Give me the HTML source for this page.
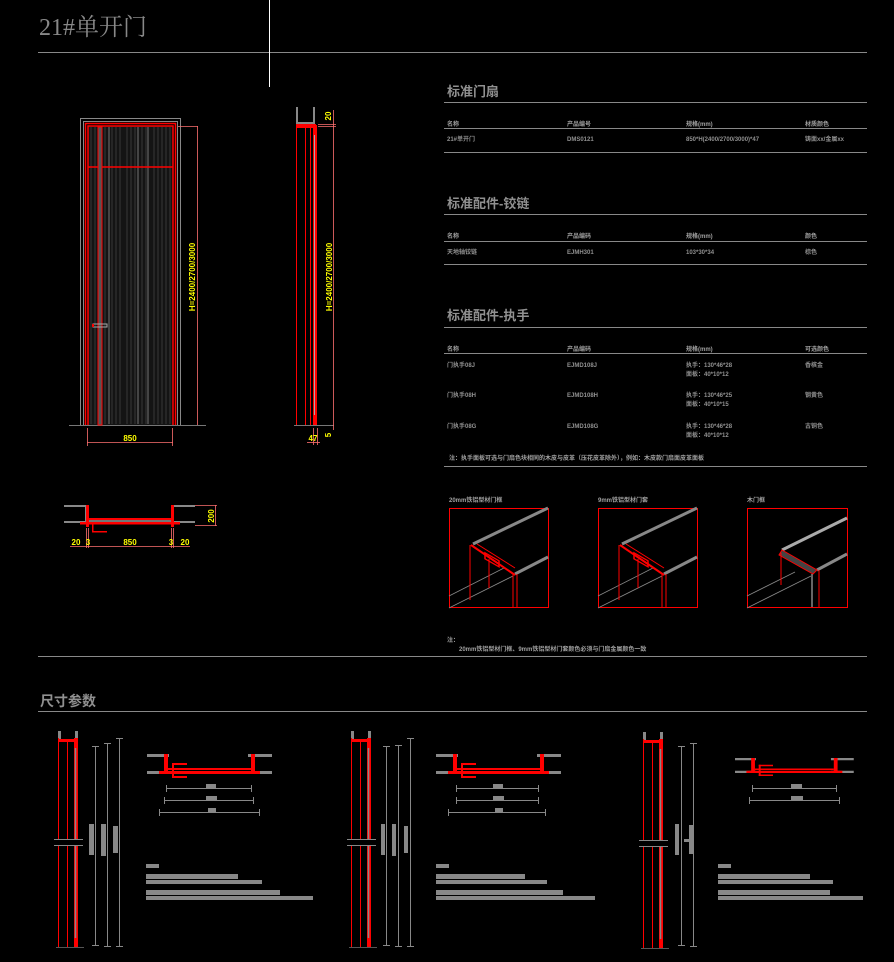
<!DOCTYPE html>
<html><head><meta charset="utf-8">
<style>
html,body{margin:0;padding:0;background:#000;}
svg{display:block;}
text{font-family:"Liberation Sans","Noto Sans CJK SC",sans-serif;}
.t{fill:#909090;font-size:6px;font-weight:bold;}
.th{fill:#a0a0a0;font-size:6px;font-weight:bold;}
.h2{fill:#909090;font-size:13px;font-weight:bold;}
.y{fill:#ffff00;font-size:8px;font-weight:bold;}
</style></head><body>
<svg width="894" height="962" viewBox="0 0 894 962" xmlns="http://www.w3.org/2000/svg">
<rect width="894" height="962" fill="#000"/>
<text x="39" y="35" style="font-family:'Liberation Serif','Noto Serif CJK SC',serif;font-size:24px;fill:#888">21#单开门</text>
<line x1="38" y1="52.5" x2="867" y2="52.5" stroke="#888" stroke-width="1"/>
<line x1="269.5" y1="0" x2="269.5" y2="87" stroke="#fff" stroke-width="1"/>

<g stroke="#888" stroke-width="1">
<line x1="444" y1="102.5" x2="867" y2="102.5"/>
<line x1="444" y1="128.5" x2="867" y2="128.5"/>
<line x1="444" y1="152.5" x2="867" y2="152.5"/>
<line x1="444" y1="214.5" x2="867" y2="214.5"/>
<line x1="444" y1="241.5" x2="867" y2="241.5"/>
<line x1="444" y1="264.5" x2="867" y2="264.5"/>
<line x1="444" y1="327.5" x2="867" y2="327.5"/>
<line x1="444" y1="353.5" x2="867" y2="353.5"/>
<line x1="444" y1="466.5" x2="867" y2="466.5"/>
<line x1="38" y1="656.5" x2="867" y2="656.5"/>
<line x1="38" y1="711.5" x2="867" y2="711.5"/>
</g>
<text class="h2" x="447" y="96">标准门扇</text>
<text class="th" x="447" y="126">名称</text><text class="th" x="567" y="126">产品编号</text><text class="th" x="686" y="126">规格(mm)</text><text class="th" x="805" y="126">材质颜色</text>
<text class="t" x="447" y="141">21#单开门</text><text class="t" x="567" y="141">DMS0121</text><text class="t" x="686" y="141">850*H(2400/2700/3000)*47</text><text class="t" x="805" y="141">铸面xx/金属xx</text>

<text class="h2" x="447" y="208">标准配件-铰链</text>
<text class="th" x="447" y="238">名称</text><text class="th" x="567" y="238">产品编码</text><text class="th" x="686" y="238">规格(mm)</text><text class="th" x="805" y="238">颜色</text>
<text class="t" x="447" y="254">天地轴铰链</text><text class="t" x="567" y="254">EJMH301</text><text class="t" x="686" y="254">103*30*34</text><text class="t" x="805" y="254">棕色</text>

<text class="h2" x="447" y="320">标准配件-执手</text>
<text class="th" x="447" y="351">名称</text><text class="th" x="567" y="351">产品编码</text><text class="th" x="686" y="351">规格(mm)</text><text class="th" x="805" y="351">可选颜色</text>
<text class="t" x="447" y="367">门执手08J</text><text class="t" x="567" y="367">EJMD108J</text><text class="t" x="686" y="367">执手：130*46*28</text><text class="t" x="686" y="376">面板：40*10*12</text><text class="t" x="805" y="367">香槟金</text>
<text class="t" x="447" y="397">门执手08H</text><text class="t" x="567" y="397">EJMD108H</text><text class="t" x="686" y="397">执手：130*46*25</text><text class="t" x="686" y="406">面板：40*10*15</text><text class="t" x="805" y="397">钢黄色</text>
<text class="t" x="447" y="428">门执手08G</text><text class="t" x="567" y="428">EJMD108G</text><text class="t" x="686" y="428">执手：130*46*28</text><text class="t" x="686" y="437">面板：40*10*12</text><text class="t" x="805" y="428">古铜色</text>
<text class="th" x="449" y="460">注：执手面板可选与门扇色块相同的木皮与皮革（压花皮革除外），例如：木皮款门扇面皮革面板</text>

<text class="th" x="449" y="502">20mm铁铝型材门框</text>
<text class="th" x="598" y="502">9mm铁铝型材门套</text>
<text class="th" x="747" y="502">木门框</text>
<defs>
<g id="iso">
 <line x1="0" y1="100" x2="64" y2="68" stroke="#888" stroke-width="0.8"/>
 <line x1="0" y1="88" x2="55" y2="60" stroke="#888" stroke-width="0.8"/>
 <line x1="24" y1="36" x2="99" y2="0" stroke="#888" stroke-width="3"/>
 <line x1="66" y1="66" x2="99" y2="49" stroke="#888" stroke-width="3"/>
 <line x1="22" y1="37" x2="66" y2="67" stroke="#ff0000" stroke-width="2"/>
 <line x1="28" y1="36" x2="66" y2="60" stroke="#ff0000" stroke-width="1"/>
 <rect x="36" y="48" width="14" height="6" fill="none" stroke="#ff0000" stroke-width="1.5" transform="skewY(30) translate(0,-24)"/>
 <line x1="21" y1="37" x2="21" y2="92" stroke="#ff0000" stroke-width="1"/>
 <line x1="40" y1="51" x2="40" y2="80" stroke="#ff0000" stroke-width="1"/>
 <line x1="64" y1="66" x2="64" y2="99" stroke="#ff0000" stroke-width="1"/>
 <line x1="68" y1="66" x2="68" y2="99" stroke="#ff0000" stroke-width="1"/>
</g>
</defs>
<rect x="449.5" y="508.5" width="99" height="99" fill="none" stroke="#ff0000" stroke-width="1"/>
<g transform="translate(449,508)"><use href="#iso"/></g>
<rect x="598.5" y="508.5" width="99" height="99" fill="none" stroke="#ff0000" stroke-width="1"/>
<g transform="translate(598,508)"><use href="#iso"/></g>
<rect x="747.5" y="508.5" width="100" height="99" fill="none" stroke="#ff0000" stroke-width="1"/>
<g transform="translate(747,508)">
 <line x1="0" y1="100" x2="64" y2="68" stroke="#888" stroke-width="0.8"/>
 <line x1="0" y1="88" x2="48" y2="64" stroke="#888" stroke-width="0.8"/>
 <line x1="35" y1="42" x2="100" y2="10" stroke="#aaa" stroke-width="3"/>
 <line x1="70" y1="62" x2="100" y2="46" stroke="#888" stroke-width="3"/>
 <path d="M35,42 L70,62 L66,66 L32,47 Z" fill="#444" stroke="#ff0000" stroke-width="1"/>
 <line x1="34" y1="45" x2="34" y2="77" stroke="#ff0000" stroke-width="1"/>
 <line x1="65" y1="66" x2="65" y2="99" stroke="#888" stroke-width="1.5"/>
 <line x1="72" y1="62" x2="72" y2="99" stroke="#ff0000" stroke-width="1"/>
</g>
<text class="th" x="447" y="642">注：</text>
<text class="th" x="459" y="651">20mm铁铝型材门框、9mm铁铝型材门套颜色必须与门扇金属颜色一致</text>

<line x1="69" y1="425.5" x2="206" y2="425.5" stroke="#777" stroke-width="1"/>
<path d="M80.5,425 V118.5 H180.5 V425" fill="none" stroke="#888" stroke-width="1"/>
<path d="M83.5,425 V121.5 H177.5 V425" fill="none" stroke="#888" stroke-width="1"/>
<rect x="88" y="126" width="85" height="299" fill="#141414"/>
<g stroke="#333" stroke-width="1.2">
<line x1="91" y1="127" x2="91" y2="424"/><line x1="95" y1="127" x2="95" y2="424"/>
<line x1="105" y1="127" x2="105" y2="424"/><line x1="112" y1="127" x2="112" y2="424"/>
<line x1="116" y1="127" x2="116" y2="424"/><line x1="120" y1="127" x2="120" y2="424"/>
<line x1="127" y1="127" x2="127" y2="424"/><line x1="131" y1="127" x2="131" y2="424"/>
<line x1="135" y1="127" x2="135" y2="424"/><line x1="142" y1="127" x2="142" y2="424"/>
<line x1="146" y1="127" x2="146" y2="424"/><line x1="154" y1="127" x2="154" y2="424"/>
<line x1="158" y1="127" x2="158" y2="424"/><line x1="162" y1="127" x2="162" y2="424"/>
<line x1="166" y1="127" x2="166" y2="424"/><line x1="170" y1="127" x2="170" y2="424"/>
</g>
<g stroke="#444" stroke-width="2"><line x1="109" y1="127" x2="109" y2="424"/><line x1="138" y1="127" x2="138" y2="424"/><line x1="148" y1="127" x2="148" y2="424"/></g>
<g fill="none" stroke="#ff0000" stroke-width="1.5">
<path d="M85.5,425 V123.5 H175.5 V425"/>
<path d="M88,425 V126 H173 V425"/>
</g>
<line x1="88" y1="167" x2="173" y2="167" stroke="#ff0000" stroke-width="1.5"/>
<rect x="98" y="127" width="4" height="298" fill="#555" stroke="#ff0000" stroke-width="1"/>
<rect x="93" y="324" width="14" height="3" fill="none" stroke="#aaa" stroke-width="1"/>
<rect x="92" y="324" width="2" height="3" fill="#ff0000"/>
<g stroke="#ff7070" stroke-width="0.8">
<line x1="178" y1="126.5" x2="198" y2="126.5"/><line x1="197.5" y1="126" x2="197.5" y2="425"/>
<line x1="87.5" y1="428" x2="87.5" y2="446"/><line x1="172.5" y1="428" x2="172.5" y2="446"/><line x1="87" y1="442.5" x2="173" y2="442.5"/>
</g>
<text class="y" transform="translate(195,277) rotate(-90)" text-anchor="middle">H=2400/2700/3000</text>
<text class="y" x="130" y="441" text-anchor="middle">850</text>

<line x1="294" y1="425.5" x2="334" y2="425.5" stroke="#777" stroke-width="1"/>
<rect x="296" y="107" width="2" height="18" fill="#888"/>
<rect x="313" y="107" width="2" height="18" fill="#888"/>
<rect x="298" y="122" width="15" height="2" fill="#888"/>
<rect x="297" y="124" width="19" height="4" fill="#ff0000"/>
<g stroke="#ff0000" stroke-width="1">
<line x1="296.5" y1="124" x2="296.5" y2="425"/><line x1="305.5" y1="127" x2="305.5" y2="425"/><line x1="310.5" y1="127" x2="310.5" y2="425"/>
</g>
<rect x="313" y="125" width="4" height="300" fill="#ff0000"/>
<line x1="314.5" y1="135" x2="314.5" y2="415" stroke="#aaa" stroke-width="1"/>
<g stroke="#ff7070" stroke-width="0.8">
<line x1="333.5" y1="110" x2="333.5" y2="430"/><line x1="318" y1="124.5" x2="336" y2="124.5"/><line x1="318" y1="126.5" x2="336" y2="126.5"/>
<line x1="313.5" y1="428" x2="313.5" y2="445"/><line x1="317.5" y1="428" x2="317.5" y2="445"/><line x1="307" y1="442.5" x2="320" y2="442.5"/>
</g>
<text class="y" transform="translate(331,116) rotate(-90)" text-anchor="middle">20</text>
<text class="y" transform="translate(332,277) rotate(-90)" text-anchor="middle">H=2400/2700/3000</text>
<text class="y" x="313" y="441" text-anchor="middle">47</text>
<text class="y" transform="translate(331,435) rotate(-90)" text-anchor="middle">5</text>

<g fill="#888">
<rect x="64" y="505" width="24" height="2"/><rect x="64" y="521" width="24" height="2"/>
<rect x="171" y="505" width="24" height="2"/><rect x="171" y="521" width="24" height="2"/>
<rect x="85" y="505" width="2" height="18"/><rect x="172" y="505" width="2" height="18"/>
</g>
<g fill="#ff0000">
<rect x="86" y="505" width="3" height="22"/><rect x="171" y="505" width="3" height="22"/>
<rect x="80" y="522" width="100" height="2.5"/><rect x="89" y="518" width="82" height="2"/>
<rect x="92" y="521" width="15" height="1.5"/><rect x="92" y="531" width="15" height="1.5"/>
<rect x="92" y="521" width="1.5" height="11"/>
</g>
<rect x="89" y="520" width="82" height="2" fill="#777"/>
<g stroke="#ff7070" stroke-width="0.8">
<line x1="195" y1="505.5" x2="217" y2="505.5"/><line x1="195" y1="525.5" x2="217" y2="525.5"/><line x1="215.5" y1="505" x2="215.5" y2="526"/>
<line x1="70" y1="546.5" x2="190" y2="546.5"/>
<line x1="86.5" y1="528" x2="86.5" y2="548"/><line x1="88.5" y1="528" x2="88.5" y2="548"/>
<line x1="171.5" y1="528" x2="171.5" y2="548"/><line x1="173.5" y1="528" x2="173.5" y2="548"/>
</g>
<text class="y" transform="translate(214,516) rotate(-90)" text-anchor="middle">200</text>
<text class="y" x="76" y="545" text-anchor="middle">20</text>
<text class="y" x="88" y="545" text-anchor="middle">3</text>
<text class="y" x="130" y="545" text-anchor="middle">850</text>
<text class="y" x="171" y="545" text-anchor="middle">3</text>
<text class="y" x="185" y="545" text-anchor="middle">20</text>

<text x="40" y="706" style="font-size:14px;font-weight:bold;fill:#909090">尺寸参数</text>

<defs>
<g id="vsec">
 <rect x="0" y="-7" width="3" height="10" fill="#888"/><rect x="17" y="-7" width="3" height="10" fill="#888"/>
 <rect x="0" y="1" width="20" height="3" fill="#ff0000"/>
 <g stroke="#ff0000" stroke-width="1"><line x1="0.5" y1="0" x2="0.5" y2="209"/><line x1="9.5" y1="3" x2="9.5" y2="209"/></g>
 <rect x="16" y="0" width="4" height="209" fill="#ff0000"/>
 <line x1="17.5" y1="10" x2="17.5" y2="200" stroke="#888" stroke-width="1.5"/>
 <line x1="-2" y1="209.5" x2="26" y2="209.5" stroke="#555" stroke-width="1"/>
 <g stroke="#888" stroke-width="1"><line x1="-4" y1="101.5" x2="25" y2="101.5"/><line x1="-4" y1="107.5" x2="25" y2="107.5"/></g>
 <rect x="-4" y="102" width="29" height="5" fill="#000"/>
</g>
<g id="plan">
 <g fill="#888"><rect x="0" y="0" width="22" height="3"/><rect x="0" y="17" width="22" height="3"/><rect x="101" y="0" width="24" height="3"/><rect x="101" y="17" width="24" height="3"/></g>
 <g fill="#ff0000">
  <rect x="17" y="0" width="4" height="20"/><rect x="104" y="0" width="4" height="20"/>
  <rect x="12" y="17" width="101" height="3"/><rect x="21" y="14" width="83" height="2"/>
  <rect x="25" y="9" width="2" height="15"/><rect x="25" y="9" width="15" height="2"/><rect x="25" y="22" width="15" height="2"/>
 </g>
</g>
</defs>

<g transform="translate(58,738)"><use href="#vsec"/></g>
<g stroke="#888" stroke-width="1">
<line x1="95.5" y1="746" x2="95.5" y2="946"/><line x1="92" y1="746.5" x2="99" y2="746.5"/><line x1="92" y1="945.5" x2="99" y2="945.5"/>
<line x1="107.5" y1="743" x2="107.5" y2="946"/><line x1="104" y1="743.5" x2="111" y2="743.5"/><line x1="104" y1="946.5" x2="111" y2="946.5"/>
<line x1="119.5" y1="738" x2="119.5" y2="946"/><line x1="116" y1="738.5" x2="123" y2="738.5"/><line x1="116" y1="946.5" x2="123" y2="946.5"/>
</g>
<g fill="#888"><rect x="89" y="824" width="5" height="31"/><rect x="101" y="824" width="5" height="32"/><rect x="113" y="826" width="5" height="27"/></g>
<g transform="translate(147,754)"><use href="#plan"/></g>
<g stroke="#888" stroke-width="1">
<line x1="166" y1="788.5" x2="251" y2="788.5"/><line x1="166.5" y1="785" x2="166.5" y2="792"/><line x1="251.5" y1="785" x2="251.5" y2="792"/>
<line x1="164" y1="800.5" x2="253" y2="800.5"/><line x1="164.5" y1="797" x2="164.5" y2="804"/><line x1="253.5" y1="797" x2="253.5" y2="804"/>
<line x1="159" y1="812.5" x2="259" y2="812.5"/><line x1="159.5" y1="809" x2="159.5" y2="816"/><line x1="259.5" y1="809" x2="259.5" y2="816"/>
</g>
<g fill="#888"><rect x="206" y="784" width="10" height="5"/><rect x="206" y="796" width="11" height="5"/><rect x="208" y="808" width="8" height="5"/>
<rect x="146" y="864" width="13" height="4"/><rect x="146" y="874" width="92" height="5"/><rect x="146" y="880" width="116" height="4"/><rect x="146" y="890" width="134" height="5"/><rect x="146" y="896" width="167" height="4"/></g>

<g transform="translate(351,738)"><use href="#vsec"/></g>
<g stroke="#888" stroke-width="1">
<line x1="386.5" y1="746" x2="386.5" y2="946"/><line x1="383" y1="746.5" x2="390" y2="746.5"/><line x1="383" y1="945.5" x2="390" y2="945.5"/>
<line x1="398.5" y1="745" x2="398.5" y2="946"/><line x1="395" y1="745.5" x2="402" y2="745.5"/><line x1="395" y1="946.5" x2="402" y2="946.5"/>
<line x1="410.5" y1="738" x2="410.5" y2="946"/><line x1="407" y1="738.5" x2="414" y2="738.5"/><line x1="407" y1="946.5" x2="414" y2="946.5"/>
</g>
<g fill="#888"><rect x="381" y="824" width="4" height="31"/><rect x="392" y="824" width="4" height="32"/><rect x="404" y="826" width="4" height="27"/></g>
<g transform="translate(436,754)"><use href="#plan"/></g>
<g stroke="#888" stroke-width="1">
<line x1="456" y1="788.5" x2="538" y2="788.5"/><line x1="456.5" y1="785" x2="456.5" y2="792"/><line x1="538.5" y1="785" x2="538.5" y2="792"/>
<line x1="456" y1="800.5" x2="538" y2="800.5"/><line x1="456.5" y1="797" x2="456.5" y2="804"/><line x1="538.5" y1="797" x2="538.5" y2="804"/>
<line x1="448" y1="812.5" x2="545" y2="812.5"/><line x1="448.5" y1="809" x2="448.5" y2="816"/><line x1="545.5" y1="809" x2="545.5" y2="816"/>
</g>
<g fill="#888"><rect x="493" y="784" width="10" height="5"/><rect x="493" y="796" width="11" height="5"/><rect x="495" y="808" width="8" height="5"/>
<rect x="436" y="864" width="13" height="4"/><rect x="436" y="874" width="89" height="5"/><rect x="436" y="880" width="111" height="4"/><rect x="436" y="890" width="127" height="5"/><rect x="436" y="896" width="159" height="4"/></g>

<g transform="translate(643,739)"><use href="#vsec"/></g>
<g stroke="#888" stroke-width="1">
<line x1="681.5" y1="746" x2="681.5" y2="946"/><line x1="678" y1="746.5" x2="685" y2="746.5"/><line x1="678" y1="945.5" x2="685" y2="945.5"/>
<line x1="693.5" y1="743" x2="693.5" y2="946"/><line x1="690" y1="743.5" x2="697" y2="743.5"/><line x1="690" y1="946.5" x2="697" y2="946.5"/>
</g>
<g fill="#888"><rect x="675" y="824" width="4" height="31"/><rect x="689" y="825" width="4" height="29"/><rect x="684" y="839" width="6" height="3"/></g>
<g transform="translate(735,758) scale(0.95,0.75)"><use href="#plan"/></g>
<g stroke="#888" stroke-width="1">
<line x1="752" y1="788.5" x2="836" y2="788.5"/><line x1="752.5" y1="785" x2="752.5" y2="792"/><line x1="836.5" y1="785" x2="836.5" y2="792"/>
<line x1="749" y1="800.5" x2="839" y2="800.5"/><line x1="749.5" y1="797" x2="749.5" y2="804"/><line x1="839.5" y1="797" x2="839.5" y2="804"/>
</g>
<g fill="#888"><rect x="791" y="784" width="11" height="5"/><rect x="791" y="796" width="12" height="5"/>
<rect x="718" y="864" width="13" height="4"/><rect x="718" y="874" width="92" height="5"/><rect x="718" y="880" width="115" height="4"/><rect x="718" y="890" width="112" height="5"/><rect x="718" y="896" width="145" height="4"/></g>
</svg>
</body></html>
